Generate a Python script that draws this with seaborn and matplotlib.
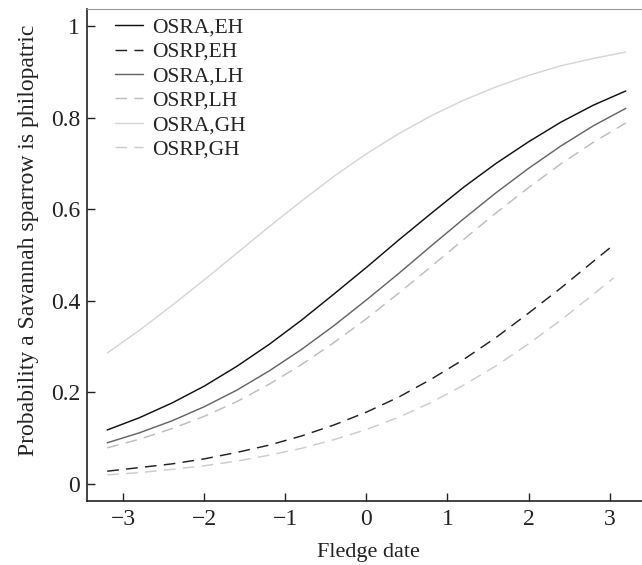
import numpy as np
import pandas as pd
import matplotlib
matplotlib.use('Agg')
import matplotlib.pyplot as plt
import seaborn as sns

# Fledge date grid
x_full = [-3.2, -2.8, -2.4, -2.0, -1.6, -1.2, -0.8, -0.4, 0.0, 0.4, 0.8, 1.2, 1.6, 2.0, 2.4, 2.8, 3.2]
x_short = [-3.2, -2.8, -2.4, -2.0, -1.6, -1.2, -0.8, -0.4, 0.0, 0.4, 0.8, 1.2, 1.6, 2.0, 2.4, 2.8, 3.05]

osra_eh = [0.118, 0.145, 0.177, 0.214, 0.257, 0.305, 0.358, 0.415, 0.473, 0.533, 0.591, 0.648, 0.700, 0.747, 0.790, 0.827, 0.858]
osrp_eh = [0.028, 0.036, 0.044, 0.055, 0.069, 0.085, 0.105, 0.129, 0.157, 0.190, 0.229, 0.272, 0.320, 0.373, 0.428, 0.486, 0.522]
osra_lh = [0.090, 0.112, 0.138, 0.169, 0.205, 0.247, 0.294, 0.346, 0.402, 0.460, 0.520, 0.579, 0.636, 0.689, 0.738, 0.782, 0.820]
osrp_lh = [0.079, 0.098, 0.121, 0.148, 0.180, 0.218, 0.261, 0.309, 0.361, 0.417, 0.475, 0.534, 0.592, 0.647, 0.699, 0.746, 0.788]
osra_gh = [0.286, 0.336, 0.390, 0.446, 0.504, 0.562, 0.618, 0.672, 0.721, 0.765, 0.804, 0.838, 0.867, 0.892, 0.913, 0.929, 0.943]
osrp_gh = [0.020, 0.025, 0.032, 0.040, 0.050, 0.063, 0.078, 0.097, 0.119, 0.146, 0.178, 0.216, 0.258, 0.306, 0.358, 0.414, 0.450]

labels = ['OSRA,EH', 'OSRP,EH', 'OSRA,LH', 'OSRP,LH', 'OSRA,GH', 'OSRP,GH']
series = [osra_eh, osrp_eh, osra_lh, osrp_lh, osra_gh, osrp_gh]
xs = [x_full, x_short, x_full, x_full, x_full, x_short]
colors = ['#111111', '#222222', '#666666', '#bdbdbd', '#d6d6d6', '#cccccc']
dashed = [False, True, False, True, False, True]

sns.set_theme(style='ticks')
plt.rcParams['font.family'] = ['Liberation Serif', 'DejaVu Serif']

fig = plt.figure(figsize=(6.42, 5.65), dpi=100)
ax = fig.add_axes([0.1355, 0.1133, 0.877, 0.8708])

for lab, y, x, c, d in zip(labels, series, xs, colors, dashed):
    df = pd.DataFrame({'x': x, 'y': y})
    ls = (0, (8, 5)) if d else '-'
    sns.lineplot(data=df, x='x', y='y', ax=ax, color=c, linewidth=1.05,
                 linestyle=ls, label=lab)

ax.set_xlim(-3.45, 3.5)
ax.set_ylim(-0.037, 1.037)
ax.set_xticks([-3, -2, -1, 0, 1, 2, 3])
ax.set_yticks([0, 0.2, 0.4, 0.6, 0.8, 1.0])
ax.set_yticklabels(['0', '0.2', '0.4', '0.6', '0.8', '1'])
ax.tick_params(direction='in', length=6, width=1, labelsize=17, colors='#222222')
ax.tick_params(axis='x', pad=6)
ax.tick_params(axis='y', pad=5)
ax.set_xlabel('Fledge date', fontsize=16, color='#222222', labelpad=9)
ax.set_ylabel('Probability a Savannah sparrow is philopatric', fontsize=17, color='#222222')
ax.yaxis.set_label_coords(-0.085, 0.53)

for s in ['left', 'bottom']:
    ax.spines[s].set_color('#222222')
    ax.spines[s].set_linewidth(1.2)
ax.spines['top'].set_color('#999999')
ax.spines['top'].set_linewidth(0.8)
ax.spines['right'].set_visible(False)

leg = ax.legend(loc='upper left', frameon=False, fontsize=15.5, handlelength=1.3,
                labelspacing=0.2, handletextpad=0.4, borderaxespad=0.0,
                bbox_to_anchor=(0.035, 1.0))

fig.savefig('out.png', dpi=100)
